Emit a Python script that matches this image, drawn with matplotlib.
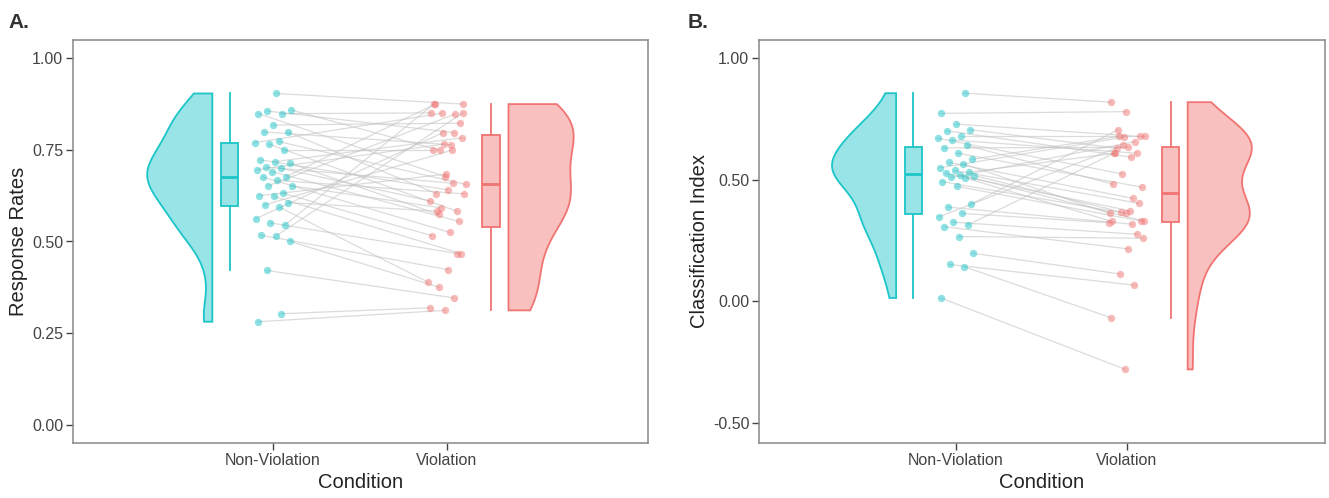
import numpy as np
import matplotlib
matplotlib.use("Agg")
import matplotlib.pyplot as plt
from matplotlib.patches import Polygon

plt.rcParams['font.family'] = ['Liberation Sans', 'DejaVu Sans']

categories = ['Non-Violation', 'Violation']

# Panel A: response rates (paired per participant)
a_nonviol = [0.281, 0.303, 0.421, 0.500, 0.515, 0.517, 0.545, 0.551, 0.562, 0.594,
             0.600, 0.606, 0.623, 0.625, 0.632, 0.652, 0.652, 0.667, 0.676, 0.677,
             0.691, 0.696, 0.700, 0.703, 0.714, 0.718, 0.723, 0.749, 0.765, 0.770,
             0.773, 0.799, 0.799, 0.818, 0.849, 0.849, 0.856, 0.859, 0.904]
a_viol = [0.312, 0.319, 0.346, 0.375, 0.851, 0.423, 0.875, 0.467, 0.797, 0.389,
          0.749, 0.583, 0.467, 0.684, 0.516, 0.848, 0.592, 0.630, 0.525, 0.875,
          0.555, 0.766, 0.611, 0.659, 0.574, 0.783, 0.641, 0.749, 0.583, 0.850,
          0.656, 0.764, 0.631, 0.823, 0.677, 0.851, 0.797, 0.749, 0.875]

# Panel B: classification index (paired per participant)
b_nonviol = [0.014, 0.143, 0.152, 0.198, 0.267, 0.307, 0.314, 0.326, 0.348, 0.362,
             0.388, 0.400, 0.474, 0.493, 0.508, 0.510, 0.518, 0.521, 0.528, 0.532,
             0.539, 0.550, 0.566, 0.572, 0.585, 0.610, 0.632, 0.642, 0.664, 0.671,
             0.679, 0.702, 0.707, 0.730, 0.774, 0.857]
b_viol = [-0.280, -0.067, 0.067, 0.113, 0.260, 0.216, 0.610, 0.276, 0.642, 0.324,
          0.318, 0.705, 0.331, 0.362, 0.329, 0.658, 0.368, 0.331, 0.373, 0.610,
          0.404, 0.676, 0.362, 0.424, 0.679, 0.470, 0.634, 0.482, 0.610, 0.525,
          0.679, 0.594, 0.631, 0.679, 0.781, 0.820]

a_yticks = [0.00, 0.25, 0.50, 0.75, 1.00]
b_yticks = [-0.50, 0.00, 0.50, 1.00]

TEAL = '#1CC5C8'
RED = '#F07472'
FILL_ALPHA = 0.45


def kde(vals, grid):
    v = np.asarray(vals)
    n = len(v)
    sd = v.std(ddof=1)
    q75, q25 = np.percentile(v, [75, 25])
    bw = 0.9 * min(sd, (q75 - q25) / 1.34) * n ** -0.2
    d = np.exp(-0.5 * ((grid[:, None] - v[None, :]) / bw) ** 2).sum(axis=1)
    return d / (n * bw * np.sqrt(2 * np.pi))


def half_violin(ax, vals, base, side, color, maxw=0.375):
    grid = np.linspace(min(vals), max(vals), 400)
    d = kde(vals, grid)
    xs = base + side * d / d.max() * maxw
    pts = [(base, grid[0])] + list(zip(xs, grid)) + [(base, grid[-1])]
    ax.add_patch(Polygon(pts, closed=True, facecolor=color, alpha=FILL_ALPHA,
                         edgecolor='none', zorder=2))
    ax.add_patch(Polygon(pts, closed=True, facecolor='none', edgecolor=color,
                         lw=1.3, zorder=2.5))


def jitter(n, phase):
    return ((np.arange(n) * 0.6180339887 + phase) % 1.0 - 0.5) * 0.22


def box(ax, vals, pos, color):
    bp = ax.boxplot([vals], positions=[pos], widths=0.1, showfliers=False,
                    showcaps=False, patch_artist=True, whis=1.5, manage_ticks=False)
    for b in bp['boxes']:
        b.set_facecolor(matplotlib.colors.to_rgba(color, FILL_ALPHA))
        b.set_edgecolor(color)
        b.set_linewidth(1.3)
        b.set_zorder(3)
    for w in bp['whiskers']:
        w.set_color(color)
        w.set_linewidth(1.3)
    for m in bp['medians']:
        m.set_color(color)
        m.set_linewidth(2)
        m.set_zorder(4)


def panel(ax, nv, v, ylim, yticks, ylabel, ylabel_x):
    nv = np.asarray(nv)
    v = np.asarray(v)
    x_nv = 1 + jitter(len(nv), 0.1)
    x_v = 2 + jitter(len(v), 0.45)
    for i in range(len(nv)):
        ax.plot([x_nv[i], x_v[i]], [nv[i], v[i]], color='#c4c4c4', alpha=0.6,
                lw=0.9, zorder=1)
    ax.scatter(x_nv, nv, s=28, color=TEAL, alpha=0.5, lw=0, zorder=5)
    ax.scatter(x_v, v, s=28, color=RED, alpha=0.5, lw=0, zorder=5)
    half_violin(ax, nv, 1 - 0.35, -1, TEAL)
    half_violin(ax, v, 2 + 0.355, +1, RED)
    box(ax, nv, 1 - 0.25, TEAL)
    box(ax, v, 2 + 0.255, RED)

    ax.set_xlim(-0.152, 3.158)
    ax.set_ylim(*ylim)
    ax.set_xticks([1, 2])
    ax.set_xticklabels(categories)
    ax.set_yticks(yticks)
    ax.set_yticklabels([f'{t:.2f}' for t in yticks])
    ax.tick_params(direction='out', length=5, width=1, color='#444444',
                   labelcolor='#444444', labelsize=11.5, pad=2)
    for s in ax.spines.values():
        s.set_color('#888888')
        s.set_linewidth(1.1)
    ax.set_ylabel(ylabel, fontsize=14.5, color='#222222')
    ax.yaxis.set_label_coords(ylabel_x, 0.5)
    ax.set_xlabel('Condition', fontsize=14.5, color='#222222')
    ax.xaxis.set_label_coords(0.5, -0.075)


fig = plt.figure(figsize=(13.29, 4.98), dpi=100)
H = 498.0
W = 1329.0
axA = fig.add_axes([73 / W, (H - 443) / H, 575 / W, 403 / H])
axB = fig.add_axes([759 / W, (H - 443) / H, 566 / W, 403 / H])

panel(axA, a_nonviol, a_viol, (-0.05, 1.05), a_yticks, 'Response Rates', -0.078)
panel(axB, b_nonviol, b_viol, (-0.583, 1.076), b_yticks, 'Classification Index', -0.089)

fig.text(8 / W, 1 - 22 / H, 'A.', fontsize=15, fontweight='bold', color='#333333', va='center')
fig.text(688 / W, 1 - 22 / H, 'B.', fontsize=15, fontweight='bold', color='#333333', va='center')

fig.savefig('out.png', dpi=100, facecolor='white')
